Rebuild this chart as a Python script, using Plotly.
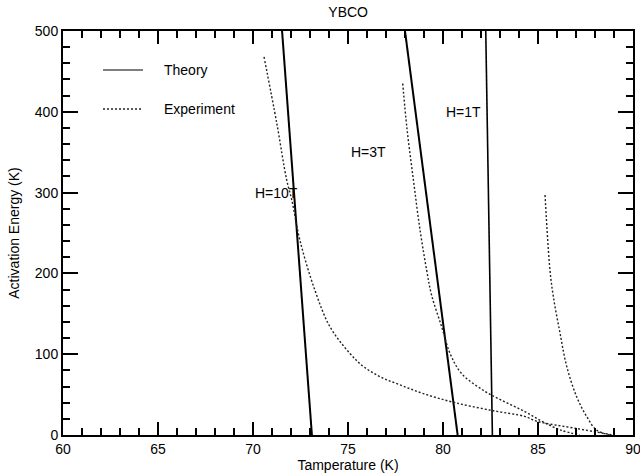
import plotly.graph_objects as go

# Theory lines (straight)
theory_10T_T = [71.53, 73.10]
theory_10T_E = [500, 0]
theory_3T_T = [78.00, 80.77]
theory_3T_E = [500, 0]
theory_1T_T = [82.25, 82.60]
theory_1T_E = [500, 0]

# Experimental curves
exp_10T_T = [70.58, 71.25, 71.77, 72.04, 72.47, 73.26, 74.05, 75.10, 75.80, 76.70, 77.74, 79.00, 80.63, 82.65, 84.30, 84.93, 87.04, 88.95]
exp_10T_E = [468, 386, 316, 291, 241, 179, 134, 101, 85, 72, 62, 51, 40, 30, 23, 17, 8, 0]
exp_3T_T = [77.88, 78.10, 78.44, 78.79, 79.14, 79.40, 79.93, 80.37, 80.98, 82.21, 83.26, 84.30, 85.20, 86.20, 87.20]
exp_3T_E = [435, 380, 316, 254, 204, 173, 134, 101, 76, 54, 41, 29, 17, 6, 0]
exp_1T_T = [85.37, 85.63, 85.81, 86.16, 86.51, 87.04, 87.56, 88.09, 88.80]
exp_1T_E = [297, 204, 171, 126, 85, 47, 23, 6, 0]

field_labels = ["H=10T", "H=3T", "H=1T"]
label_T = [71.25, 76.1, 81.07]
label_E = [300, 350, 400]

FONT = "Liberation Sans, Arial, sans-serif"
FS = 14

fig = go.Figure()
for T, E, w in [(theory_10T_T, theory_10T_E, 2), (theory_3T_T, theory_3T_E, 2), (theory_1T_T, theory_1T_E, 1.6)]:
    fig.add_trace(go.Scatter(x=T, y=E, mode="lines", line=dict(color="black", width=w),
                             showlegend=False, hoverinfo="skip"))
for T, E in [(exp_10T_T, exp_10T_E), (exp_3T_T, exp_3T_E), (exp_1T_T, exp_1T_E)]:
    fig.add_trace(go.Scatter(x=T, y=E, mode="lines",
                             line=dict(color="#222", width=1.4, dash="2px,2px", shape="spline", smoothing=1.0),
                             showlegend=False, hoverinfo="skip"))

for txt, tx, ey in zip(field_labels, label_T, label_E):
    fig.add_annotation(x=tx, y=ey, text=txt, showarrow=False, xanchor="center", yanchor="middle",
                       font=dict(family=FONT, size=FS, color="black"))

# legend drawn manually
fig.add_shape(type="line", xref="paper", yref="paper", x0=0.0702, x1=0.1404, y0=0.9035, y1=0.9035,
              line=dict(color="black", width=1.2))
fig.add_shape(type="line", xref="paper", yref="paper", x0=0.0702, x1=0.1404, y0=0.807, y1=0.807,
              line=dict(color="#222", width=1.4, dash="2px,2px"))
fig.add_annotation(xref="paper", yref="paper", x=0.1737, y=0.9035, text="Theory", showarrow=False,
                   xanchor="left", yanchor="middle", font=dict(family=FONT, size=FS, color="black"))
fig.add_annotation(xref="paper", yref="paper", x=0.1737, y=0.807, text="Experiment", showarrow=False,
                   xanchor="left", yanchor="middle", font=dict(family=FONT, size=FS, color="black"))

axis_common = dict(showline=True, linecolor="black", linewidth=2, mirror="ticks", showgrid=False,
                   zeroline=False, ticks="inside", tickcolor="black", tickwidth=2,
                   ticklabeloverflow="allow",
                   tickfont=dict(family=FONT, size=FS, color="black"))
fig.update_xaxes(range=[60, 90], dtick=5, tick0=60, ticklen=13,
                 minor=dict(dtick=1, ticks="inside", ticklen=7, tickcolor="black", tickwidth=1.5),
                 title=dict(text="Tamperature (K)", font=dict(family=FONT, size=FS, color="black"), standoff=0),
                 **axis_common)
fig.update_yaxes(range=[0, 500], dtick=100, tick0=0, ticklen=15,
                 minor=dict(dtick=20, ticks="inside", ticklen=7, tickcolor="black", tickwidth=1.5),
                 title=dict(text="Activation Energy (K)", font=dict(family=FONT, size=FS, color="black"), standoff=12),
                 **axis_common)

fig.update_layout(
    width=640, height=476,
    margin=dict(l=63, r=7, t=31, b=41, autoexpand=False),
    paper_bgcolor="white", plot_bgcolor="white",
    title=dict(text="YBCO", x=0.544, xanchor="center", y=0.975, yanchor="middle",
               font=dict(family=FONT, size=FS, color="black")),
)
fig.write_html("out.html", config={"displayModeBar": False},
               post_script="document.body.style.margin='0';document.body.style.overflow='hidden';")
